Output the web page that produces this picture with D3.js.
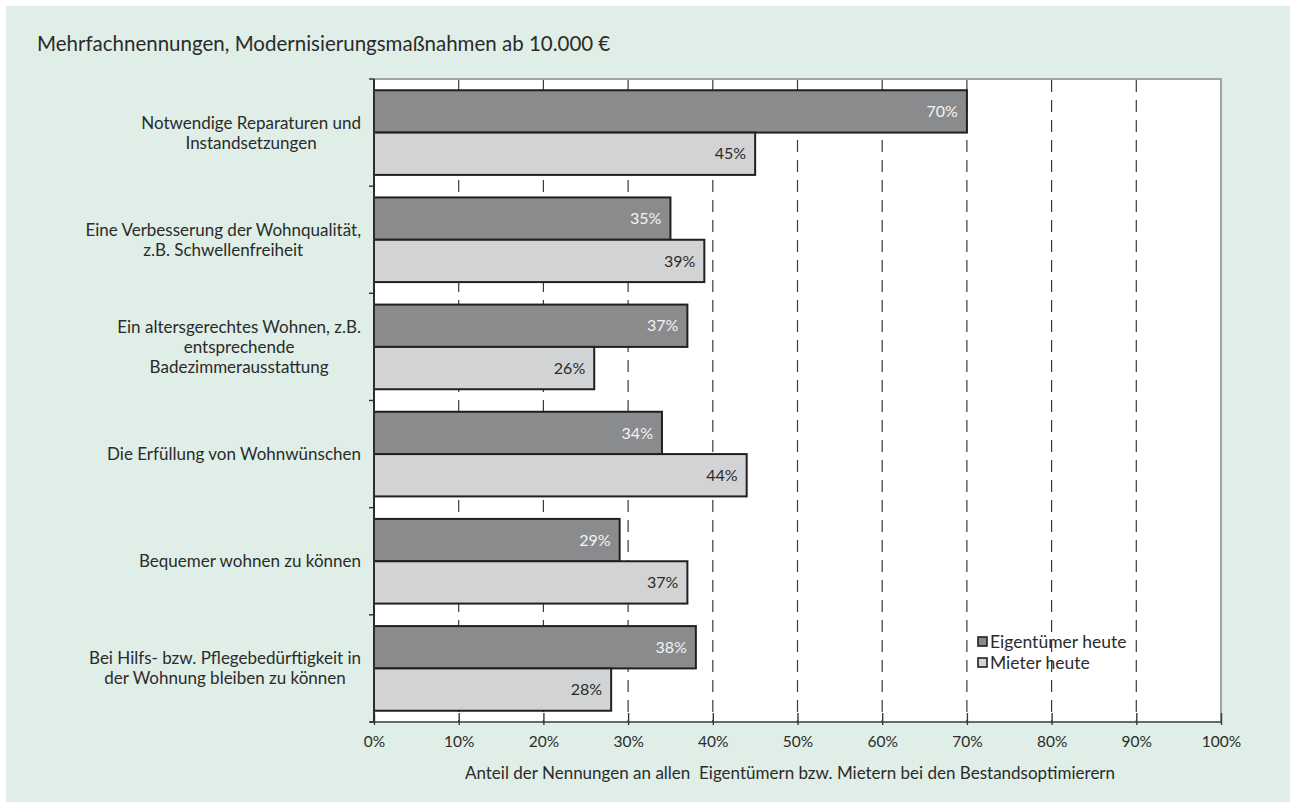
<!DOCTYPE html>
<html>
<head>
<meta charset="utf-8">
<script src="https://cdn.jsdelivr.net/npm/d3@7"></script>
<style>
  body { margin: 0; background: #ffffff; }
  svg text { font-family: Lato, "Open Sans", sans-serif; fill: #2b2b2b; }
</style>
</head>
<body>
<svg id="chart" width="1290" height="802"></svg>
<script>
// Category labels (one entry per line of the wrapped label)
const categories = [
  ["Notwendige Reparaturen und", "Instandsetzungen"],
  ["Eine Verbesserung der Wohnqualität,", "z.B. Schwellenfreiheit"],
  ["Ein altersgerechtes Wohnen, z.B.", "entsprechende", "Badezimmerausstattung"],
  ["Die Erfüllung von Wohnwünschen"],
  ["Bequemer wohnen zu können"],
  ["Bei Hilfs- bzw. Pflegebedürftigkeit in", "der Wohnung bleiben zu können"]
];
const seriesNames = ["Eigentümer heute", "Mieter heute"];
const eigentuemerHeute = [70, 35, 37, 34, 29, 38];
const mieterHeute = [45, 39, 26, 44, 37, 28];
const xTickValues = [0, 10, 20, 30, 40, 50, 60, 70, 80, 90, 100];
const gridValues = [10, 20, 30, 40, 50, 60, 70, 80, 90];
const titleText = "Mehrfachnennungen, Modernisierungsmaßnahmen ab 10.000\u202F€";
const xAxisTitle = "Anteil der Nennungen an allen  Eigentümern bzw. Mietern bei den Bestandsoptimierern";

const seriesValues = [eigentuemerHeute, mieterHeute];
const fills = ["#8a8b8d", "#d2d3d5"];
const labelFills = ["#f4f4f4", "#2b2b2b"];

const svg = d3.select("#chart");
const W = 1290, H = 802;
const plot = { left: 374, right: 1221, top: 79, bottom: 722 };

// mint panel
svg.append("rect").attr("x", 6).attr("y", 6).attr("width", W - 6).attr("height", H - 6)
  .attr("fill", "#dfeee7");

// title
svg.append("text").attr("x", 37).attr("y", 51)
  .style("font-size", "20.5px").text(titleText);

// scales
const x = d3.scaleLinear().domain([0, 100]).range([plot.left, plot.right]);
const y = d3.scaleBand().domain(d3.range(categories.length))
  .range([plot.top, plot.bottom]).paddingInner(0.21).paddingOuter(0.105);
const ySub = d3.scaleBand().domain(d3.range(seriesNames.length)).range([0, y.bandwidth()]);

// plot background
svg.append("rect").attr("x", plot.left).attr("y", plot.top)
  .attr("width", plot.right - plot.left).attr("height", plot.bottom - plot.top)
  .attr("fill", "#ffffff");
// frame top/right
svg.append("path")
  .attr("d", `M${plot.left},${plot.top}H${plot.right}V${plot.bottom}`)
  .attr("fill", "none").attr("stroke", "#a3a3a3").attr("stroke-width", 2);

// dashed gridlines
svg.append("g").selectAll("line").data(gridValues).join("line")
  .attr("x1", d => x(d)).attr("x2", d => x(d))
  .attr("y1", plot.top + 1).attr("y2", plot.bottom)
  .attr("stroke", "#3a3a3a").attr("stroke-width", 1.2)
  .attr("stroke-dasharray", "12,8");

// bars
const groups = svg.append("g").selectAll("g").data(categories).join("g")
  .attr("transform", (d, i) => `translate(0,${y(i)})`);

seriesValues.forEach((vals, s) => {
  groups.append("rect")
    .attr("x", x(0))
    .attr("y", ySub(s))
    .attr("width", (d, i) => x(vals[i]) - x(0))
    .attr("height", ySub.bandwidth())
    .attr("fill", fills[s])
    .attr("stroke", "#231f20").attr("stroke-width", 2);
  groups.append("text")
    .attr("x", (d, i) => x(vals[i]) - 9)
    .attr("y", ySub(s) + ySub.bandwidth() / 2)
    .attr("dy", "0.35em")
    .attr("text-anchor", "end")
    .style("font-size", "16px")
    .style("fill", labelFills[s])
    .text((d, i) => vals[i] + "%");
});

// x axis
const xAxis = d3.axisBottom(x).tickValues(xTickValues).tickFormat(d => d + "%")
  .tickSizeInner(-9).tickSizeOuter(0).tickPadding(14);
const gx = svg.append("g").attr("transform", `translate(0,${plot.bottom})`).call(xAxis);
gx.select(".domain").attr("stroke", "#3a3a3a").attr("stroke-width", 1.6)
  .attr("d", `M${plot.left - 4},0H${plot.right}`);
gx.selectAll(".tick line").attr("stroke", "#3a3a3a").attr("stroke-width", 1.4)
  .attr("y1", 3);
gx.selectAll(".tick text").style("font-size", "15.5px").style("fill", "#2b2b2b")
  .style("font-family", "Lato, sans-serif");

// y axis line with category separators
const yAxisG = svg.append("g");
yAxisG.append("line").attr("x1", plot.left).attr("x2", plot.left)
  .attr("y1", plot.top).attr("y2", plot.bottom)
  .attr("stroke", "#2e2e2e").attr("stroke-width", 2);
const sepY = d3.range(categories.length + 1).map(i =>
  plot.top + i * (plot.bottom - plot.top) / categories.length);
yAxisG.selectAll("line.sep").data(sepY).join("line").attr("class", "sep")
  .attr("x1", plot.left - 5).attr("x2", plot.left)
  .attr("y1", d => d).attr("y2", d => d)
  .attr("stroke", "#2e2e2e").attr("stroke-width", 1.4);

// category labels: each block centred, block right-aligned near the axis
const lineH = 20;
const labelRight = 361;
categories.forEach((lines, i) => {
  const cy = y(i) + y.bandwidth() / 2;
  const t = svg.append("text").style("font-size", "17px").attr("text-anchor", "middle");
  const spans = lines.map((ln, k) => t.append("tspan").text(ln)
    .attr("y", cy + (k - (lines.length - 1) / 2) * lineH).attr("dy", "0.35em"));
  const maxW = d3.max(spans, s => s.node().getComputedTextLength());
  spans.forEach(s => s.attr("x", labelRight - maxW / 2));
});

// x axis title
svg.append("text").attr("x", 790).attr("y", 779).attr("text-anchor", "middle")
  .attr("xml:space", "preserve").style("white-space", "pre")
  .style("font-size", "17px").text(xAxisTitle);

// legend
const legend = svg.append("g").attr("transform", "translate(978,637)");
seriesNames.forEach((name, s) => {
  const g = legend.append("g").attr("transform", `translate(0,${s * 21})`);
  g.append("rect").attr("x", 0).attr("y", 0).attr("width", 9).attr("height", 9)
    .attr("fill", fills[s]).attr("stroke", "#231f20").attr("stroke-width", 1.6);
  g.append("text").attr("x", 12).attr("y", 5).attr("dy", "0.35em")
    .style("font-size", "17.5px").text(name);
});
</script>
</body>
</html>
